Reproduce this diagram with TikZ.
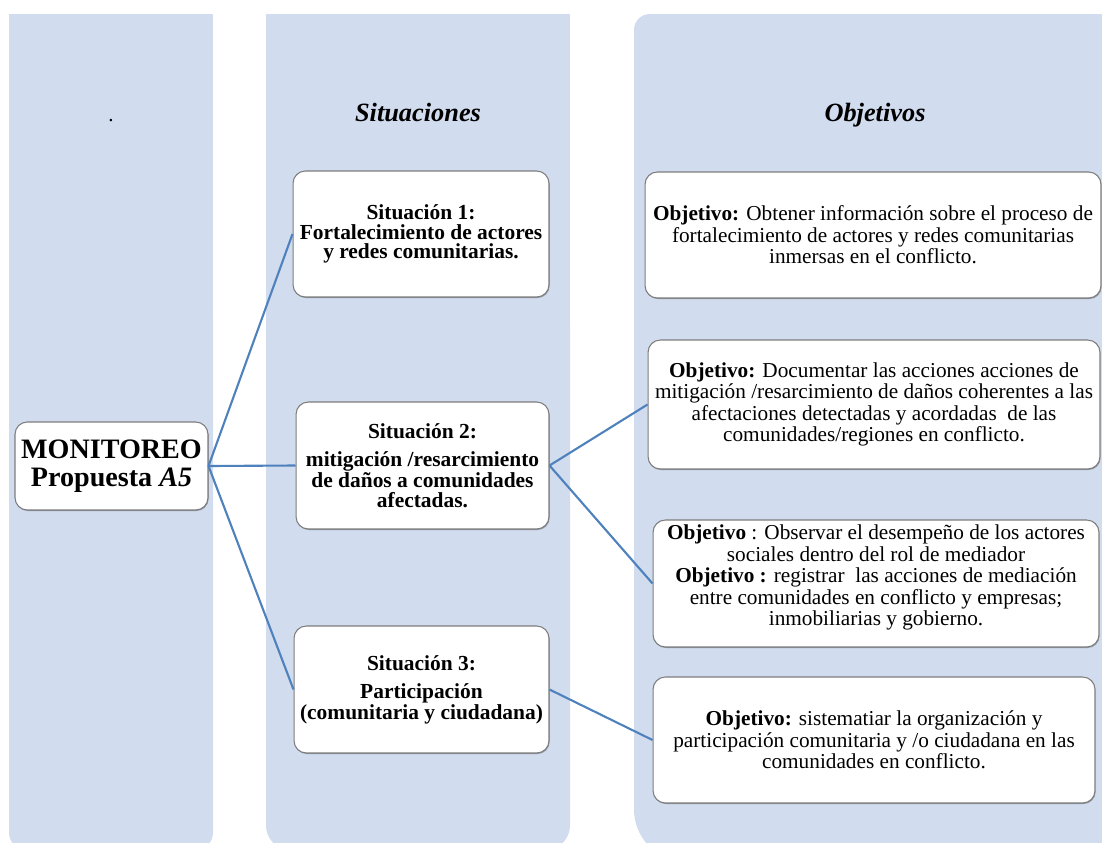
\documentclass[tikz,border=0pt]{standalone}
\usepackage{fontspec}
\setmainfont{Liberation Serif}
\usetikzlibrary{shadows}
\definecolor{colbg}{RGB}{209,220,238}
\definecolor{boxline}{RGB}{125,125,125}
\definecolor{conn}{RGB}{79,129,189}
\begin{document}
\begin{tikzpicture}[x=0.02cm,y=-0.02cm,
  box/.style={draw=boxline, line width=0.6pt, fill=white, rounded corners=7pt,
    align=center, inner sep=0pt,
    drop shadow={shadow xshift=0.4pt, shadow yshift=-0.6pt, opacity=0.3, fill=black},
    font=\fontsize{12.1}{12.2}\selectfont},
  sitbox/.style={box, font=\bfseries\fontsize{12.2}{10.9}\selectfont},
  link/.style={draw=conn, line width=1.2pt},
  head/.style={anchor=base, font=\bfseries\itshape\fontsize{15}{16}\selectfont}]
\useasboundingbox (0,0) rectangle (1102,842);
\begin{scope}
  \clip (0,0) rectangle (1102,842);
  % column 1
  \fill[colbg] (9,14) rectangle (213,400);
  \fill[colbg, rounded corners=10pt] (9,300) rectangle (213,850);
  % column 2
  \fill[colbg] (266,14) rectangle (570,400);
  \fill[colbg, rounded corners=14pt] (266,300) rectangle (570,850);
  % column 3
  \fill[colbg, rounded corners=9pt] (634,14) rectangle (1160,500);
  \fill[colbg, rounded corners=30pt] (634,300) rectangle (1160,862);
\end{scope}

\node[anchor=base, font=\fontsize{12}{12}\selectfont] (dot) at (111,121) {.};
\node[head] (hs) at (418,121) {Situaciones};
\node[head] (ho) at (875,121) {Objetivos};

\node[box, minimum width=3.86cm, minimum height=1.76cm,
  font=\bfseries\fontsize{16}{16}\selectfont] (mon) at (111.5,466)
  {MONITOREO\\Propuesta \textit{A5}};

\node[sitbox, minimum width=5.12cm, minimum height=2.52cm] (s1) at (421,234)
  {Situación 1:\\Fortalecimiento de actores\\y redes comunitarias.};
\node[sitbox, minimum width=5.06cm, minimum height=2.54cm] (s2) at (422.5,465.5)
  {Situación 2:\\[5pt]mitigación /resarcimiento\\de daños a comunidades\\afectadas.};
\node[sitbox, minimum width=5.10cm, minimum height=2.54cm] (s3) at (421.5,689.5)
  {Situación 3:\\[5pt]Participación\\(comunitaria y ciudadana)};

\node[box, minimum width=9.12cm, minimum height=2.52cm] (o1) at (873,235)
  {\textbf{Objetivo:} Obtener información sobre el proceso de\\fortalecimiento de actores y redes comunitarias\\inmersas en el conflicto.};
\node[box, minimum width=9.04cm, minimum height=2.58cm] (o2) at (874,404.5)
  {\textbf{Objetivo:} Documentar las acciones acciones de\\mitigación /resarcimiento de daños coherentes a las\\afectaciones detectadas y acordadas\ \ de las\\comunidades/regiones en conflicto.};
\node[box, minimum width=8.92cm, minimum height=2.54cm] (o3) at (876,583.5) {};
\node[align=center, inner sep=0pt, font=\fontsize{12.1}{12.2}\selectfont, yshift=3.4pt] (o3t) at (o3.center)
  {\textbf{Objetivo} : Observar el desempeño de los actores\\sociales dentro del rol de mediador\\\textbf{Objetivo :} registrar\ \ las acciones de mediación\\entre comunidades en conflicto y empresas;\\inmobiliarias y gobierno.};
\node[box, minimum width=8.84cm, minimum height=2.52cm] (o4) at (874,740)
  {\textbf{Objetivo:} sistematiar la organización y\\participación comunitaria y /o ciudadana en las\\comunidades en conflicto.};

\draw[link] (mon.east) -- (s1.west);
\draw[link] (mon.east) -- (s2.west);
\draw[link] (mon.east) -- (s3.west);
\draw[link] (s2.east) -- (o2.west);
\draw[link] (s2.east) -- (o3.west);
\draw[link] (s3.east) -- (o4.west);
\end{tikzpicture}
\end{document}
